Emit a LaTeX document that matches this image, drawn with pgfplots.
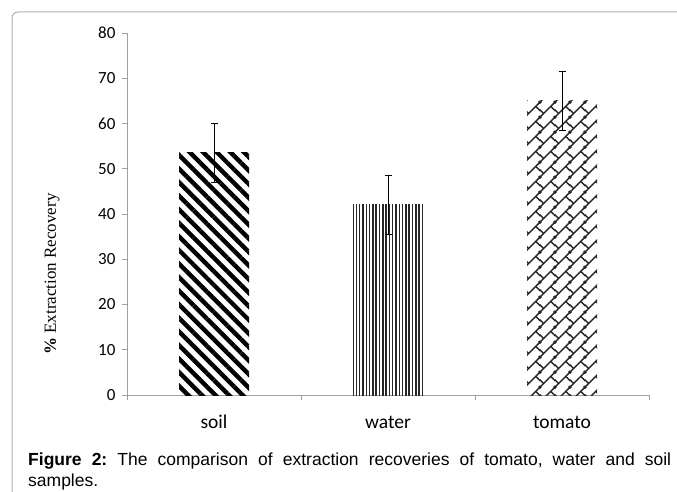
\documentclass[border=0pt]{standalone}
\usepackage{fontspec}
\setmainfont{Liberation Sans}
\newfontfamily\calibri{Carlito}
\newfontfamily\timesfont{Liberation Serif}
\usepackage{pgfplots}
\pgfplotsset{compat=1.18}
\usetikzlibrary{patterns,patterns.meta}
\definecolor{axisgray}{HTML}{A0A0A0}
\definecolor{framegray}{HTML}{B0B0B0}
\frenchspacing

% diagonal brick, long lines going up-right
\tikzdeclarepattern{
  name=dbrick,
  type=uncolored,
  bounding box={(0pt,0pt) and (15pt,15pt)},
  tile size={(15pt,15pt)},
  code={
    \foreach \dx in {-15,0,15}{
      \foreach \dy in {-15,0,15}{
        \draw[line width=1.5pt] (\dx pt-1pt,\dy pt-1pt) -- (\dx pt+16pt,\dy pt+16pt);
        \draw[line width=1.5pt] (\dx pt+3.75pt,\dy pt+3.75pt) -- (\dx pt-3.75pt,\dy pt+11.25pt);
      }
    }
  }
}

\begin{document}
\begin{tikzpicture}
\path[use as bounding box] (0pt,0pt) rectangle (677pt,-492pt);
\draw[framegray,line width=1pt,rounded corners=6pt] (12pt,-500pt) -- (12pt,-12pt) -- (690pt,-12pt);

\begin{axis}[
  at={(127pt,-395pt)},anchor=south west,
  scale only axis,width=522pt,height=362pt,
  xmin=-0.5,xmax=2.5,ymin=0,ymax=80,
  axis x line*=bottom,axis y line*=left,
  axis line style={axisgray,line width=0.8pt},
  tick align=outside,major tick length=5pt,
  ytick={0,10,...,80},
  ytick style={axisgray,line width=0.8pt},
  yticklabel style={font=\calibri\fontsize{17}{20}\selectfont,xshift=-3pt},
  xtick={0,1,2},xticklabels={soil,water,tomato},
  xtick style={draw=none},
  xticklabel style={font=\calibri\fontsize{19.5}{22}\selectfont,
    text height=13pt,text depth=4pt,yshift=-12pt},
  extra x ticks={-0.5,0.5,1.5,2.5},extra x tick labels={},
  extra x tick style={xtick style={draw=axisgray,line width=0.8pt}},
  /pgf/number format/assume math mode=true,
  ylabel={\textbf{\%} Extraction Recovery},
  ylabel style={font=\timesfont\fontsize{17}{20}\selectfont,
    at={(axis description cs:-0.1437,0.334)},anchor=center},
  ybar,bar width=70pt,bar shift=0pt,
  error bars/y dir=both,error bars/y explicit,
  error bars/error mark options={rotate=90,mark size=3.5pt,line width=0.8pt,black},
  error bars/error bar style={line width=0.8pt,black},
]
\addplot[draw=none,pattern={Lines[angle=-45,distance=9.6pt,line width=4.4pt]},pattern color=black]
  coordinates {(0,53.5) +- (0,6.6)};
\addplot[draw=none,pattern={Lines[angle=90,distance=3.3pt,line width=1.5pt]},pattern color=black!85]
  coordinates {(1,42.0) +- (0,6.6)};
\addplot[draw=none,pattern=dbrick,pattern color=black!85]
  coordinates {(2,65.0) +- (0,6.6)};
\end{axis}

\node[anchor=base west,text width=643pt,align=justify,inner sep=0pt,
  font=\fontsize{17.5}{21}\selectfont] at (28pt,-465pt)
  {\textbf{Figure 2:} The comparison of extraction recoveries of tomato, water and soil\linebreak samples.};
\end{tikzpicture}
\end{document}
